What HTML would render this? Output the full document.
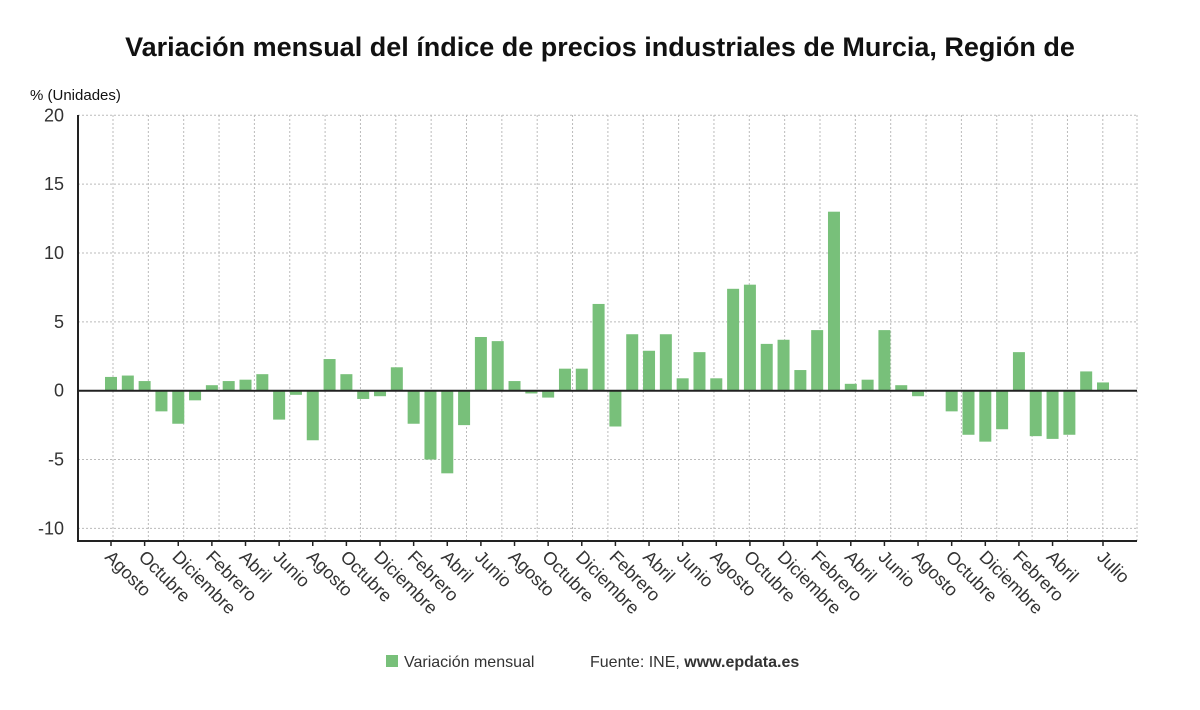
<!DOCTYPE html>
<html><head><meta charset="utf-8"><style>
body{margin:0;background:#fff;font-family:"Liberation Sans",sans-serif;}
svg text{font-family:"Liberation Sans",sans-serif;}
</style></head><body>
<svg id="c" width="1200" height="705" viewBox="0 0 1200 705">
<text x="600" y="56" text-anchor="middle" font-size="27" font-weight="bold" fill="#111">Variación mensual del índice de precios industriales de Murcia, Región de</text>
<text x="30" y="100" font-size="15" fill="#111">% (Unidades)</text>
<g id="grid"></g><g id="bars"></g><g id="axes"></g>
<g>
<rect x="386" y="655" width="12" height="12" fill="#78c07a"/>
<text x="404" y="667" font-size="16" fill="#333">Variación mensual</text>
<text x="590" y="667" font-size="16" fill="#333">Fuente: INE, <tspan font-weight="bold">www.epdata.es</tspan></text>
</g>
</svg>
<script>
const values=[1.0,1.1,0.7,-1.5,-2.4,-0.7,0.4,0.7,0.8,1.2,-2.1,-0.3,-3.6,2.3,1.2,-0.6,-0.4,1.7,-2.4,-5.0,-6.0,-2.5,3.9,3.6,0.7,-0.2,-0.5,1.6,1.6,6.3,
-2.6,4.1,2.9,4.1,0.9,2.8,0.9,7.4,7.7,3.4,3.7,1.5,4.4,13.0,0.5,0.8,4.4,0.4,-0.4,0.05,-1.5,-3.2,-3.7,-2.8,2.8,-3.3,-3.5,-3.2,1.4,0.6];
const monthNames=["Agosto","Septiembre","Octubre","Noviembre","Diciembre","Enero","Febrero","Marzo","Abril","Mayo","Junio","Julio"];
const yTicks=[20,15,10,5,0,-5,-10];
const NS="http://www.w3.org/2000/svg";
const L=78,R=1137,T=115,B=541;
const y=v=>390.7-(v)*13.77;
const x=i=>111+i*(1103-111)/(values.length-1);
function mk(tag,attrs,parent){const e=document.createElementNS(NS,tag);for(const k in attrs)e.setAttribute(k,attrs[k]);parent.appendChild(e);return e;}
const grid=document.getElementById('grid'),bars=document.getElementById('bars'),axes=document.getElementById('axes');
yTicks.forEach(t=>{
  const l=mk('line',{x1:L,x2:R,y1:y(t),y2:y(t),stroke:'#bbb','stroke-dasharray':'2,2'},grid);
  
  
  const tx=mk('text',{x:64,y:y(t)+6,'text-anchor':'end','font-size':18,fill:'#333'},axes);
  tx.textContent=t;
  
  
});
for(let gx=113;gx<=R+1;gx+=35.35){
  const l=mk('line',{x1:gx,x2:gx,y1:T,y2:B,stroke:'#bbb','stroke-dasharray':'2,2'},grid);
  
  
}
mk('line',{x1:R,x2:R,y1:T,y2:B,stroke:'#bbb','stroke-dasharray':'2,2'},grid);
values.forEach((v,i)=>{
  const r=mk('rect',{x:x(i)-6,width:12,y:Math.min(y(v),y(0)),height:Math.max(Math.abs(y(v)-y(0)),0.5),fill:'#78c07a'},bars);
  
  
});
mk('line',{x1:L,x2:R,y1:y(0),y2:y(0),stroke:'#222','stroke-width':2},axes);
mk('line',{x1:L,x2:L,y1:T,y2:B+1,stroke:'#222','stroke-width':2},axes);
mk('line',{x1:L,x2:R,y1:B,y2:B,stroke:'#222','stroke-width':2},axes);
const n=values.length;
values.forEach((v,i)=>{
  const show=(i%2===0 && i!==n-2) || i===n-1;
  if(!show)return;
  mk('line',{x1:x(i),x2:x(i),y1:B,y2:B+5,stroke:'#222','stroke-width':1.5},axes);
  const t=mk('text',{x:0,y:0,'font-size':18,fill:'#333',transform:`translate(${x(i)-7},${B+17}) rotate(45)`},axes);
  t.textContent=monthNames[i%12];
  
  
});
</script>
</body></html>
